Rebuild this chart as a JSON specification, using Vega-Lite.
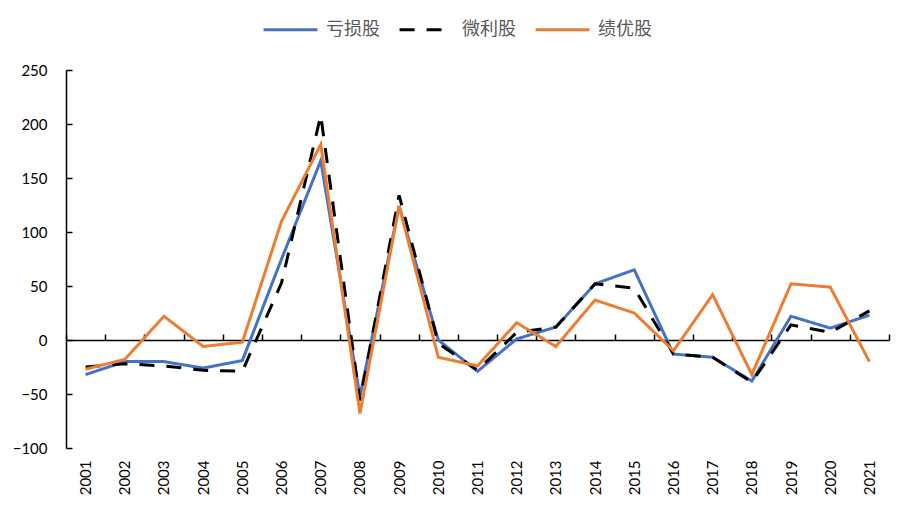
{
  "$schema": "https://vega.github.io/schema/vega-lite/v6.json",
  "width": 823,
  "height": 378,
  "autosize": {"type": "none"},
  "padding": {"left": 66, "top": 70, "right": 23, "bottom": 64},
  "background": "white",
  "config": {
    "view": {"stroke": null},
    "axis": {"grid": false, "labelFont": "Lato", "labelFontSize": 15, "labelColor": "black", "domainColor": "black", "tickColor": "black", "domainWidth": 1.5, "tickWidth": 1.5}
  },
  "data": {
    "values": [
      {"year": "2001", "series": "亏损股", "value": -32},
      {"year": "2002", "series": "亏损股", "value": -20},
      {"year": "2003", "series": "亏损股", "value": -20},
      {"year": "2004", "series": "亏损股", "value": -26},
      {"year": "2005", "series": "亏损股", "value": -19},
      {"year": "2006", "series": "亏损股", "value": 75},
      {"year": "2007", "series": "亏损股", "value": 166},
      {"year": "2008", "series": "亏损股", "value": -52},
      {"year": "2009", "series": "亏损股", "value": 124},
      {"year": "2010", "series": "亏损股", "value": 0},
      {"year": "2011", "series": "亏损股", "value": -29},
      {"year": "2012", "series": "亏损股", "value": 1},
      {"year": "2013", "series": "亏损股", "value": 12},
      {"year": "2014", "series": "亏损股", "value": 52},
      {"year": "2015", "series": "亏损股", "value": 65},
      {"year": "2016", "series": "亏损股", "value": -13},
      {"year": "2017", "series": "亏损股", "value": -16},
      {"year": "2018", "series": "亏损股", "value": -38},
      {"year": "2019", "series": "亏损股", "value": 22},
      {"year": "2020", "series": "亏损股", "value": 11},
      {"year": "2021", "series": "亏损股", "value": 23},
      {"year": "2001", "series": "微利股", "value": -25},
      {"year": "2002", "series": "微利股", "value": -22},
      {"year": "2003", "series": "微利股", "value": -24},
      {"year": "2004", "series": "微利股", "value": -28},
      {"year": "2005", "series": "微利股", "value": -29},
      {"year": "2006", "series": "微利股", "value": 53},
      {"year": "2007", "series": "微利股", "value": 208},
      {"year": "2008", "series": "微利股", "value": -56},
      {"year": "2009", "series": "微利股", "value": 134},
      {"year": "2010", "series": "微利股", "value": -3},
      {"year": "2011", "series": "微利股", "value": -28},
      {"year": "2012", "series": "微利股", "value": 7},
      {"year": "2013", "series": "微利股", "value": 12},
      {"year": "2014", "series": "微利股", "value": 52},
      {"year": "2015", "series": "微利股", "value": 48},
      {"year": "2016", "series": "微利股", "value": -13},
      {"year": "2017", "series": "微利股", "value": -16},
      {"year": "2018", "series": "微利股", "value": -39},
      {"year": "2019", "series": "微利股", "value": 14},
      {"year": "2020", "series": "微利股", "value": 7},
      {"year": "2021", "series": "微利股", "value": 27},
      {"year": "2001", "series": "绩优股", "value": -27},
      {"year": "2002", "series": "绩优股", "value": -18},
      {"year": "2003", "series": "绩优股", "value": 22},
      {"year": "2004", "series": "绩优股", "value": -6},
      {"year": "2005", "series": "绩优股", "value": -2},
      {"year": "2006", "series": "绩优股", "value": 110},
      {"year": "2007", "series": "绩优股", "value": 181},
      {"year": "2008", "series": "绩优股", "value": -68},
      {"year": "2009", "series": "绩优股", "value": 124},
      {"year": "2010", "series": "绩优股", "value": -16},
      {"year": "2011", "series": "绩优股", "value": -24},
      {"year": "2012", "series": "绩优股", "value": 16},
      {"year": "2013", "series": "绩优股", "value": -6},
      {"year": "2014", "series": "绩优股", "value": 37},
      {"year": "2015", "series": "绩优股", "value": 25},
      {"year": "2016", "series": "绩优股", "value": -10},
      {"year": "2017", "series": "绩优股", "value": 42},
      {"year": "2018", "series": "绩优股", "value": -32},
      {"year": "2019", "series": "绩优股", "value": 52},
      {"year": "2020", "series": "绩优股", "value": 49},
      {"year": "2021", "series": "绩优股", "value": -20}
    ]
  },
  "mark": {"type": "line", "strokeWidth": 3},
  "encoding": {
    "x": {
      "field": "year",
      "type": "ordinal",
      "bandPosition": 0.5,
      "scale": {"type": "band", "paddingInner": 0, "paddingOuter": 0},
      "axis": {
        "title": null,
        "orient": "bottom",
        "offset": -108,
        "tickBand": "extent",
        "tickSize": -6,
        "labelAngle": -90,
        "labelAlign": "right",
        "labelBaseline": "middle",
        "labelPadding": 126
      }
    },
    "y": {
      "field": "value",
      "type": "quantitative",
      "scale": {"domain": [-100, 250], "nice": false, "zero": false},
      "axis": {
        "title": null,
        "values": [-100, -50, 0, 50, 100, 150, 200, 250],
        "tickSize": -6,
        "labelPadding": 25
      }
    },
    "color": {
      "field": "series",
      "type": "nominal",
      "scale": {"domain": ["亏损股", "微利股", "绩优股"], "range": ["#4472C4", "#000000", "#ED7D31"]},
      "legend": {
        "title": null,
        "orient": "none",
        "direction": "horizontal",
        "legendX": 196,
        "legendY": -69,
        "symbolType": "stroke",
        "symbolSize": 2900,
        "symbolStrokeWidth": 3,
        "labelFont": "Noto Sans CJK SC",
        "labelFontSize": 18,
        "labelColor": "#595959",
        "labelOffset": 7,
        "columnPadding": 13
      }
    },
    "strokeDash": {
      "field": "series",
      "type": "nominal",
      "scale": {"domain": ["亏损股", "微利股", "绩优股"], "range": [[1, 0], [15, 12], [1, 0]]},
      "legend": {
        "title": null,
        "orient": "none",
        "direction": "horizontal",
        "legendX": 196,
        "legendY": -69,
        "symbolType": "stroke",
        "symbolSize": 2900,
        "symbolStrokeWidth": 3,
        "labelFont": "Noto Sans CJK SC",
        "labelFontSize": 18,
        "labelColor": "#595959",
        "labelOffset": 7,
        "columnPadding": 13
      }
    }
  }
}
